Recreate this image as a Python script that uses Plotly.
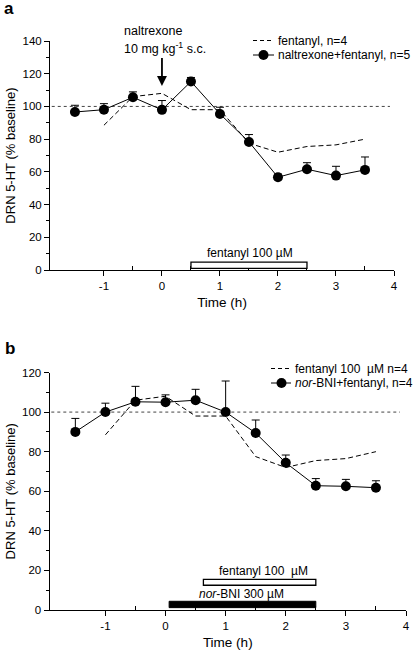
import plotly.graph_objects as go

# ---------------- data ----------------
time_pts = [-1.5, -1, -0.5, 0, 0.5, 1, 1.5, 2, 2.5, 3, 3.5]
fent_time = [-1, -0.5, 0, 0.5, 1, 1.5, 2, 2.5, 3, 3.5]
fent_vals = [88.5, 106, 108, 98, 98, 77.5, 72, 75.5, 76.5, 80]

nal_vals = [96.6, 98, 105.6, 97.9, 115.2, 95.4, 78.3, 56.7, 61.6, 57.7, 61.2]
nal_err = [4.1, 3.7, 3.3, 5.7, 2.5, 4.1, 4.5, 2, 4, 5.7, 7.9]

bni_vals = [90, 100, 105.2, 105, 106, 100, 89.4, 74.4, 62.8, 62.5, 61.8]
bni_err = [6.8, 4.5, 7.8, 3.7, 5.5, 15.7, 6.6, 3.9, 3.6, 3.5, 3.5]

x_tick_vals = [-1, 0, 1, 2, 3, 4]
x_tick_labels = ["-1", "0", "1", "2", "3", "4"]
x_minor_vals = [-0.5, 0.5, 1.5, 2.5, 3.5]

# treatment periods (x start, x end, y low, y high)
fent_bar_a = [0.5, 2.5, 1.0, 4.8]
fent_bar_b = [0.63, 2.5, 12.5, 15.5]
bni_bar_b = [0.06, 2.5, 1.2, 4.4]
baseline = 100

FONT = "Liberation Sans, Arial, sans-serif"
W, H = 415, 651


def px(x):
    return x / W


def py(y):
    return 1 - y / H


fig = go.Figure()

# ---- panel a ----
fig.add_trace(go.Scatter(
    x=fent_time, y=fent_vals, mode="lines", name="fentanyl, n=4",
    line=dict(color="black", width=1, dash="5px,3px"),
    xaxis="x", yaxis="y", showlegend=False))
fig.add_trace(go.Scatter(
    x=time_pts, y=nal_vals, mode="lines+markers", name="naltrexone+fentanyl, n=5",
    line=dict(color="black", width=1),
    marker=dict(color="black", size=10),
    error_y=dict(type="data", symmetric=False, array=nal_err,
                 arrayminus=[0] * len(nal_err), color="black", thickness=1, width=4),
    xaxis="x", yaxis="y", showlegend=False))

# ---- panel b ----
fig.add_trace(go.Scatter(
    x=fent_time, y=fent_vals, mode="lines", name="fentanyl 100 µM n=4",
    line=dict(color="black", width=1, dash="5px,3px"),
    xaxis="x2", yaxis="y2", showlegend=False))
fig.add_trace(go.Scatter(
    x=time_pts, y=bni_vals, mode="lines+markers", name="nor-BNI+fentanyl, n=4",
    line=dict(color="black", width=1),
    marker=dict(color="black", size=10),
    error_y=dict(type="data", symmetric=False, array=bni_err,
                 arrayminus=[0] * len(bni_err), color="black", thickness=1, width=4),
    xaxis="x2", yaxis="y2", showlegend=False))

axis_common = dict(showline=True, linecolor="black", linewidth=1, showgrid=False,
                   zeroline=False, ticks="outside", ticklen=5, tickwidth=1,
                   tickcolor="black", automargin=False,
                   tickfont=dict(family=FONT, size=11.5, color="black"))

xa = dict(axis_common, range=[-1.93, 4], tickmode="array", tickvals=x_tick_vals,
          ticktext=x_tick_labels,
          minor=dict(tickmode="array", tickvals=x_minor_vals, ticks="inside",
                     ticklen=4, tickcolor="black", showgrid=False),
          title=dict(text="Time (h)", font=dict(family=FONT, size=13.5, color="black"),
                     standoff=6))
ya_common = dict(axis_common, dtick=20, tick0=0,
                 minor=dict(dtick=10, ticks="outside", ticklen=3, tickcolor="black",
                            showgrid=False),
                 title=dict(text="DRN 5-HT (% baseline)",
                            font=dict(family=FONT, size=13, color="black"), standoff=3))

fig.update_layout(
    width=W, height=H,
    margin=dict(l=0, r=0, t=0, b=0),
    paper_bgcolor="white", plot_bgcolor="white",
    font=dict(family=FONT, size=12, color="black"),
    showlegend=False,
    xaxis=dict(xa, domain=[px(50), px(394)], anchor="y"),
    yaxis=dict(ya_common, domain=[py(270), py(41)], range=[0, 140], anchor="x"),
    xaxis2=dict(xa, domain=[px(49.5), px(406)], anchor="y2"),
    yaxis2=dict(ya_common, domain=[py(610), py(372.5)], range=[0, 120], anchor="x2"),
)

shapes = []
# baseline dotted lines
shapes.append(dict(type="line", xref="x", yref="y", x0=-1.9, x1=3.93, y0=baseline, y1=baseline,
                   line=dict(color="#444", width=1, dash="dot"), layer="below"))
shapes.append(dict(type="line", xref="x2", yref="y2", x0=-1.9, x1=3.9, y0=baseline, y1=baseline,
                   line=dict(color="#444", width=1, dash="dot"), layer="below"))
# treatment bars
shapes.append(dict(type="rect", xref="x", yref="y", x0=fent_bar_a[0], x1=fent_bar_a[1],
                   y0=fent_bar_a[2], y1=fent_bar_a[3],
                   line=dict(color="black", width=1.3), fillcolor="white"))
shapes.append(dict(type="rect", xref="x2", yref="y2", x0=fent_bar_b[0], x1=fent_bar_b[1],
                   y0=fent_bar_b[2], y1=fent_bar_b[3],
                   line=dict(color="black", width=1.3), fillcolor="white"))
shapes.append(dict(type="rect", xref="x2", yref="y2", x0=bni_bar_b[0], x1=bni_bar_b[1],
                   y0=bni_bar_b[2], y1=bni_bar_b[3],
                   line=dict(color="black", width=1), fillcolor="black"))

# manual legends
def legend_rows(x0, x1, y_dash, y_mark, xm):
    out = [dict(type="line", xref="paper", yref="paper", x0=px(x0), x1=px(x1),
                y0=py(y_dash), y1=py(y_dash), line=dict(color="black", width=1, dash="4px,3px")),
           dict(type="line", xref="paper", yref="paper", x0=px(x0), x1=px(x1),
                y0=py(y_mark), y1=py(y_mark), line=dict(color="black", width=1)),
           dict(type="circle", xref="paper", yref="paper", x0=px(xm - 5), x1=px(xm + 5),
                y0=py(y_mark + 5), y1=py(y_mark - 5), fillcolor="black",
                line=dict(color="black", width=0))]
    return out

shapes += legend_rows(253, 274, 40.5, 55, 263.5)
shapes += legend_rows(271, 291, 368.5, 383, 281.5)
fig.update_layout(shapes=shapes)


def pa(x, y, text, size=12, xanchor="left"):
    return dict(xref="paper", yref="paper", x=px(x), y=py(y), xanchor=xanchor,
                yanchor="middle", text=text, showarrow=False, borderpad=0,
                font=dict(family=FONT, size=size, color="black"))


ann = []
ann.append(pa(8.5, 8, "<b>a</b>", size=17, xanchor="center"))
ann.append(pa(10, 348, "<b>b</b>", size=17, xanchor="center"))
# legend texts
ann.append(pa(277, 40.5, "fentanyl, n=4"))
ann.append(pa(277, 55, "naltrexone+fentanyl, n=5"))
ann.append(pa(294, 368.5, "fentanyl 100  µM n=4"))
ann.append(pa(294, 383, "<i>nor</i>-BNI+fentanyl, n=4"))
# naltrexone arrow
ann.append(dict(xref="x", yref="y", x=0, y=112.5, axref="x", ayref="y", ax=0, ay=130.5,
                text="", showarrow=True, arrowhead=2, arrowsize=1.1, arrowwidth=1.8,
                arrowcolor="black"))
ann.append(pa(122.5, 30.5, "naltrexone", size=12.5))
ann.append(pa(122.5, 47.5, "10 mg kg<sup>-1</sup> s.c.", size=12.5))
# treatment labels
ann.append(dict(xref="x", yref="y", x=1.52, y=10.4, text="fentanyl 100 µM",
                yanchor="middle", showarrow=False, font=dict(size=12)))
ann.append(dict(xref="x2", yref="y2", x=1.63, y=19.8, text="fentanyl 100  µM",
                yanchor="middle", showarrow=False, font=dict(size=12)))
ann.append(dict(xref="x2", yref="y2", x=1.27, y=7.9, text="<i>nor</i>-BNI 300 µM",
                yanchor="middle", showarrow=False, font=dict(size=12)))
fig.update_layout(annotations=ann)

fig.write_html("out.html", config={"displayModeBar": False},
               post_script="document.body.style.margin='0px';document.body.style.padding='0px';")
